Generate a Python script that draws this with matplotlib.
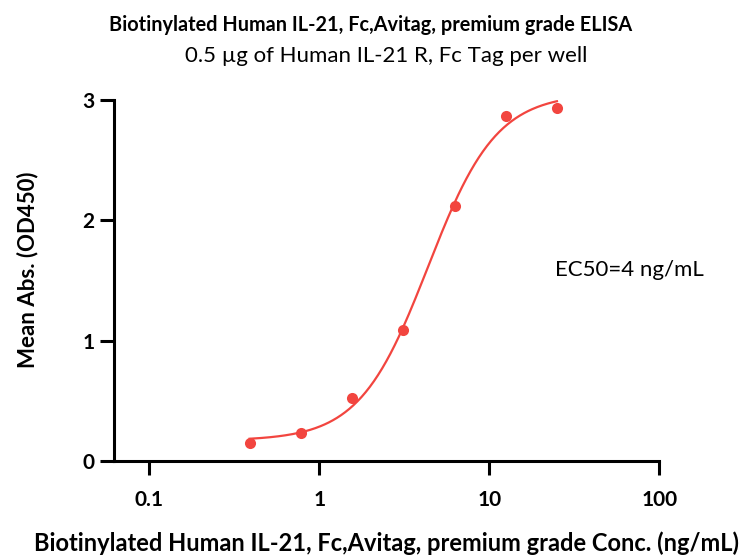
import numpy as np
import matplotlib

matplotlib.use("Agg")
import matplotlib.pyplot as plt
from matplotlib.ticker import FixedLocator, NullLocator

plt.rcParams["font.family"] = ["Lato", "DejaVu Sans"]

# data (ng/mL vs OD450)
conc = [0.39, 0.78, 1.5625, 3.125, 6.25, 12.5, 25.0]
od450 = [0.15, 0.23, 0.52, 1.09, 2.12, 2.87, 2.93]
xticks = [0.1, 1, 10, 100]
xticklabels = ["0.1", "1", "10", "100"]
yticks = [0, 1, 2, 3]

RED = "#f2453f"


def fit_4pl(x, y):
    # grid search over EC50 / Hill, bottom+top solved by least squares
    x = np.asarray(x); y = np.asarray(y)
    best = None
    for lec in np.linspace(np.log10(1), np.log10(20), 300):
        for h in np.linspace(0.8, 3.5, 200):
            f = 1.0 / (1.0 + (10**lec / x) ** h)
            A = np.column_stack([1 - f, f])
            coef, *_ = np.linalg.lstsq(A, y, rcond=None)
            r = np.sum((A @ coef - y) ** 2)
            if best is None or r < best[0]:
                best = (r, coef[0], coef[1], 10**lec, h)
    return best[1:]


bot, top, ec50, hill = fit_4pl(conc, od450)
xs = np.logspace(np.log10(conc[0]), np.log10(conc[-1]), 300)
ys = bot + (top - bot) / (1 + (ec50 / xs) ** hill)

fig = plt.figure(figsize=(7.42, 5.55), dpi=100)
ax = fig.add_axes([0.1536, 0.1694, 0.735, 0.6505])
ax.plot(xs, ys, color=RED, lw=1.6, zorder=2)
ax.plot(conc, od450, "o", color=RED, ms=8, mec="none", zorder=3, clip_on=False)

ax.set_xscale("log")
ax.set_xlim(0.0622, 100)
ax.set_ylim(0, 3)
ax.xaxis.set_major_locator(FixedLocator(xticks))
ax.xaxis.set_minor_locator(NullLocator())
ax.set_xticklabels(xticklabels)
ax.set_yticks(yticks)
for s in ("top", "right"):
    ax.spines[s].set_visible(False)
for s in ("left", "bottom"):
    ax.spines[s].set_linewidth(2.2)
ax.tick_params(axis="both", width=2.2, length=10, labelsize=15, pad=4)
ax.tick_params(axis="x", pad=11)
for lab in ax.get_xticklabels() + ax.get_yticklabels():
    lab.set_fontweight("bold")

ax.text(24.4, 1.59, "EC50=4 ng/mL", fontsize=16, va="center", ha="left")

ax.set_ylabel("Mean Abs. (OD450)", fontsize=16, fontweight="bold")
ax.yaxis.set_label_coords(-0.138, 0.529)
ax.set_xlabel("Biotinylated Human IL-21, Fc,Avitag, premium grade Conc. (ng/mL)",
              fontsize=17, fontweight="bold", labelpad=15)

fig.text(0.5, 0.955, "Biotinylated Human IL-21, Fc,Avitag, premium grade ELISA",
         ha="center", va="center", fontsize=14.3, fontweight="bold")
fig.text(0.521, 0.9, "0.5 µg of Human IL-21 R, Fc Tag per well",
         ha="center", va="center", fontsize=16)

fig.savefig("out.png", dpi=100)
